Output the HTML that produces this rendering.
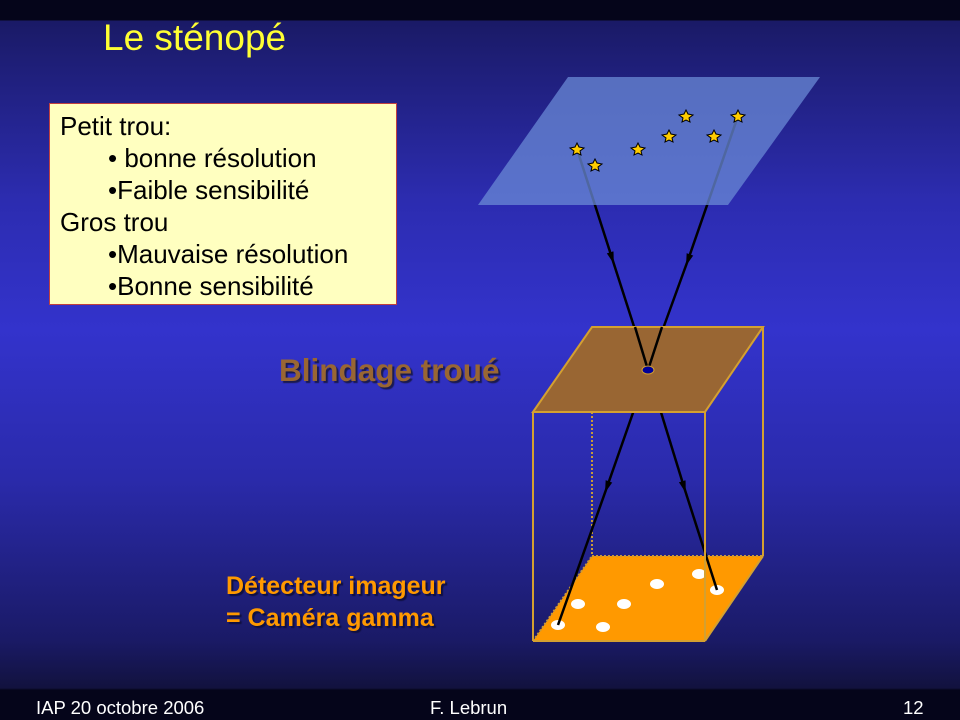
<!DOCTYPE html>
<html><head><meta charset="utf-8"><style>
body{margin:0;width:960px;height:720px;overflow:hidden;font-family:"Liberation Sans",Arial,sans-serif}
.bg{position:absolute;left:0;top:0;width:960px;height:720px;background:linear-gradient(to bottom,#05051a 0px,#05051a 20px,#1a1a66 21px,#2c2cb0 200px,#3333cc 330px,#2a2aaa 480px,#1a1a66 640px,#12123e 688px,#05051a 690px,#05051a 720px)}
.t{position:absolute;white-space:nowrap}
</style></head><body>
<div class="bg"></div>
<svg width="960" height="720" style="position:absolute;left:0;top:0">
<defs><marker id="a" markerWidth="12" markerHeight="12" refX="6" refY="6" orient="auto" markerUnits="userSpaceOnUse"><path d="M0,2.5 L12,6 L0,9.5 z" fill="#000"/></marker>
<polygon id="s" points="0,-6 2,-2 7,-1 3,2 4,6 0,4 -4,6 -3,2 -7,-1 -2,-2"/></defs>
<line x1="577" y1="149" x2="612" y2="258" stroke="#000" stroke-width="2.5" marker-end="url(#a)"/>
<line x1="612" y1="258" x2="648" y2="370" stroke="#000" stroke-width="2.5"/>
<line x1="738" y1="116" x2="688" y2="260" stroke="#000" stroke-width="2.5" marker-end="url(#a)"/>
<line x1="688" y1="260" x2="648" y2="370" stroke="#000" stroke-width="2.5"/>
<polygon points="478,205 568,77 820,77 728,205" fill="#6a8ad6" fill-opacity="0.75"/>
<g fill="#ffcc00" stroke="#000" stroke-width="1">
<use href="#s" x="577" y="149"/><use href="#s" x="595" y="165"/><use href="#s" x="638" y="149"/><use href="#s" x="669" y="136"/><use href="#s" x="686" y="116"/><use href="#s" x="714" y="136"/><use href="#s" x="738" y="116"/>
</g>
<line x1="592" y1="412" x2="592" y2="556" stroke="#c89a3a" stroke-width="2" stroke-dasharray="2,2"/>
<polygon points="533,641 592,556 763,556 705,641" fill="#ff9900"/>
<line x1="592" y1="556" x2="763" y2="556" stroke="#c89a3a" stroke-width="2" stroke-dasharray="2,2"/>
<line x1="533" y1="641" x2="592" y2="556" stroke="#c89a3a" stroke-width="2" stroke-dasharray="2,2"/>
<g fill="#fff"><ellipse cx="558" cy="625" rx="7" ry="5"/><ellipse cx="578" cy="604" rx="7" ry="5"/><ellipse cx="624" cy="604" rx="7" ry="5"/><ellipse cx="657" cy="584" rx="7" ry="5"/><ellipse cx="699" cy="574" rx="7" ry="5"/><ellipse cx="717" cy="590" rx="7" ry="5"/><ellipse cx="603" cy="627" rx="7" ry="5"/></g>
<line x1="648" y1="370" x2="607" y2="487" stroke="#000" stroke-width="2.5" marker-end="url(#a)"/>
<line x1="607" y1="487" x2="558" y2="625" stroke="#000" stroke-width="2.5"/>
<line x1="648" y1="370" x2="684" y2="487" stroke="#000" stroke-width="2.5" marker-end="url(#a)"/>
<line x1="684" y1="487" x2="717" y2="590" stroke="#000" stroke-width="2.5"/>
<polygon points="533,412 592,327 763,327 705,412" fill="#996633" stroke="#d4a030" stroke-width="2"/>
<line x1="533" y1="412" x2="533" y2="641" stroke="#d4a030" stroke-width="2"/>
<line x1="705" y1="412" x2="705" y2="641" stroke="#d4a030" stroke-width="2"/>
<line x1="763" y1="327" x2="763" y2="556" stroke="#d4a030" stroke-width="2"/>
<line x1="533" y1="641" x2="705" y2="641" stroke="#d4a030" stroke-width="2"/>
<line x1="705" y1="641" x2="763" y2="556" stroke="#d4a030" stroke-width="2"/>
<line x1="635" y1="327" x2="648" y2="370" stroke="#000" stroke-width="2.5"/>
<line x1="662" y1="327" x2="648" y2="370" stroke="#000" stroke-width="2.5"/>
<ellipse cx="648" cy="370" rx="6" ry="4" fill="#000099" stroke="#d4a030" stroke-width="1"/>
</svg>
<div class="t" style="left:103px;top:17px;font-size:37px;color:#ffff33">Le sténopé</div>
<div style="position:absolute;left:49px;top:103px;width:346px;height:200px;background:#ffffc0;border:1px solid #c04040"></div>
<div class="t" style="left:60px;top:110px;font-size:26px;line-height:32px;color:#000">Petit trou:<br><span style="padding-left:48px">• bonne résolution</span><br><span style="padding-left:48px">•Faible sensibilité</span><br>Gros trou<br><span style="padding-left:48px">•Mauvaise résolution</span><br><span style="padding-left:48px">•Bonne sensibilité</span></div>
<div class="t" style="left:279px;top:352px;font-size:31.5px;font-weight:bold;color:#996633;text-shadow:2px 2px 1px #1a1a50">Blindage troué</div>
<div class="t" style="left:226px;top:570px;font-size:25px;font-weight:bold;color:#ff9900;line-height:32px;text-shadow:2px 2px 1px #101040">Détecteur imageur<br>= Caméra gamma</div>
<div class="t" style="left:36px;top:697px;font-size:18.5px;color:#fff">IAP 20 octobre 2006</div>
<div class="t" style="left:430px;top:697px;font-size:18.5px;color:#fff">F. Lebrun</div>
<div class="t" style="left:903px;top:697px;font-size:18.5px;color:#fff">12</div>
</body></html>
